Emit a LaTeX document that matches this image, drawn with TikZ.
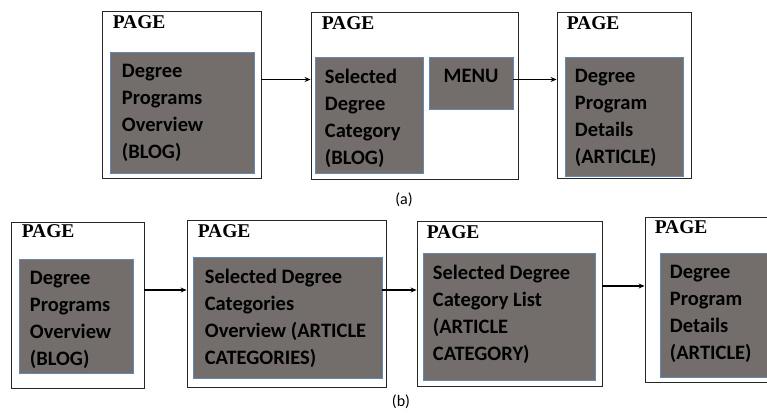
\documentclass[tikz,border=0pt]{standalone}
\usepackage{fontspec}
\setmainfont{Liberation Serif}
\newfontfamily\calibri{Carlito}
\usetikzlibrary{arrows.meta,positioning}
\definecolor{boxgrey}{RGB}{115,110,108}
\definecolor{boxedge}{RGB}{100,135,180}

\begin{document}
\begin{tikzpicture}[x=1pt,y=1pt,>={Stealth[length=6pt,width=5pt]},
  page/.style={draw=black!85,line width=0.9pt,rectangle,inner sep=0pt},
  grey/.style={draw=boxedge,fill=boxgrey,line width=0.6pt,rectangle,inner sep=0pt},
  pagelbl/.style={font=\fontsize{19.5}{19.5}\selectfont\bfseries,inner sep=0pt},
  txt/.style={font=\fontsize{20.5}{27}\selectfont\calibri\bfseries,align=left,inner sep=0pt,anchor=north west},
  subcap/.style={font=\fontsize{16}{16}\selectfont\calibri},
  link/.style={->,line width=1.2pt}]

\useasboundingbox (0,0) rectangle (767,412);
\clip (0,0) rectangle (767,412);

% (a)
\node[page,minimum width=159pt,minimum height=167pt]   (pA1) at (181.5,317.5) {};
\node[page,minimum width=207pt,minimum height=167pt]   (pA2) at (414.5,316.5) {};
\node[page,minimum width=134pt,minimum height=166pt]   (pA3) at (624,317)     {};
\node[grey,minimum width=144pt,minimum height=121pt]   (gA1) at (182,299.5)   {};
\node[grey,minimum width=108pt,minimum height=116pt]   (gA2) at (369,297)     {};
\node[grey,minimum width=84pt,minimum height=52pt]     (mnA2) at (471,329)    {};
\node[grey,minimum width=118pt,minimum height=119pt]   (gA3) at (624,295.5)   {};

\node[pagelbl] (lA1) [below right=5pt and 11pt of pA1.north west] {PAGE};
\node[pagelbl] (lA2) [below right=5pt and 11pt of pA2.north west] {PAGE};
\node[pagelbl] (lA3) [below right=5pt and 10pt of pA3.north west] {PAGE};

\node[txt] (tA1) [below right=12pt and 12pt of gA1.north west] {Degree\\Programs\\Overview\\(BLOG)};
\node[txt] (tA2) [below right=12pt and 10pt of gA2.north west] {Selected\\Degree\\Category\\(BLOG)};
\node[txt] (tmA2) [below=12pt of mnA2.north] {MENU};
\node[txt] (tA3) [below right=12pt and 10pt of gA3.north west] {Degree\\Program\\Details\\(ARTICLE)};

\node[subcap] (capA) at (404,212) {(a)};

% (b)
\node[page,minimum width=133pt,minimum height=166pt]   (pB1) at (77.5,107)    {};
\node[page,minimum width=199pt,minimum height=167pt]   (pB2) at (286.5,108.5) {};
\node[page,minimum width=185pt,minimum height=165pt]   (pB3) at (509.5,108.5) {};
\node[page,minimum width=140pt,minimum height=165pt]   (pB4) at (715,112.5)   {};
\node[grey,minimum width=114pt,minimum height=114pt]   (gB1) at (76,96)       {};
\node[grey,minimum width=189pt,minimum height=121pt]   (gB2) at (287.5,94.5)  {};
\node[grey,minimum width=172pt,minimum height=127pt]   (gB3) at (509,95.5)    {};
\node[grey,minimum width=118pt,minimum height=124pt]   (gB4) at (719,97)      {};

\node[pagelbl] (lB1) [below right=3pt and 11pt of pB1.north west] {PAGE};
\node[pagelbl] (lB2) [below right=5pt and 11pt of pB2.north west] {PAGE};
\node[pagelbl] (lB3) [below right=5pt and 10pt of pB3.north west] {PAGE};
\node[pagelbl] (lB4) [below right=4pt and 10pt of pB4.north west] {PAGE};

\node[txt] (tB1) [below right=12pt and 11pt of gB1.north west] {Degree\\Programs\\Overview\\(BLOG)};
\node[txt] (tB2) [below right=12pt and 12pt of gB2.north west] {Selected Degree\\Categories\\Overview (ARTICLE\\CATEGORIES)};
\node[txt] (tB3) [below right=12pt and 10pt of gB3.north west] {Selected Degree\\Category List\\(ARTICLE\\CATEGORY)};
\node[txt] (tB4) [below right=12pt and 10pt of gB4.north west] {Degree\\Program\\Details\\(ARTICLE)};

\node[subcap] (capB) at (401,10) {(b)};

\coordinate (ya) at (0,332.5);
\coordinate (yb) at (0,122);
\coordinate (yc) at (0,126);

\draw[link] (pA1.east |- ya) -- (pA2.west |- ya);
\draw[link] (mnA2.east |- ya) -- (pA3.west |- ya);
\draw[link] (pB1.east |- yb) -- (pB2.west |- yb);
\draw[link] (gB2.east |- yb) -- (pB3.west |- yb);
\draw[link] (pB3.east |- yc) -- (pB4.west |- yc);

\end{tikzpicture}
\end{document}
